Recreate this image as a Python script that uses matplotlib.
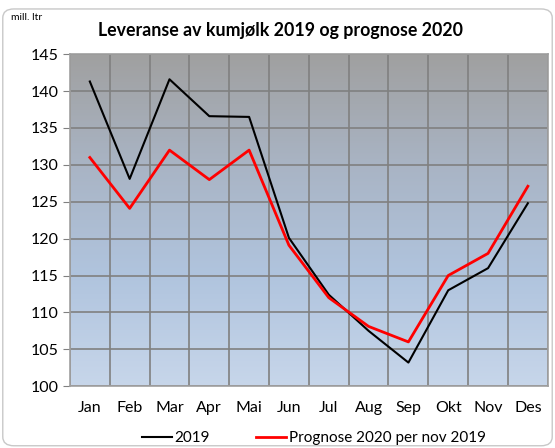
import numpy as np
import matplotlib.pyplot as plt
from matplotlib.colors import LinearSegmentedColormap
from matplotlib.patches import FancyBboxPatch

plt.rcParams['font.family'] = ['Lato', 'DejaVu Sans']

# Data (mill. liter)
months = ['Jan', 'Feb', 'Mar', 'Apr', 'Mai', 'Jun', 'Jul', 'Aug', 'Sep', 'Okt', 'Nov', 'Des']
lev_2019 = [141.3, 128.1, 141.6, 136.6, 136.5, 120.1, 112.4, 107.5, 103.2, 113.0, 116.0, 124.8]
prog_2020 = [131.0, 124.1, 132.0, 128.0, 132.0, 119.1, 112.0, 108.1, 106.0, 115.0, 118.0, 127.1]

fig = plt.figure(figsize=(5.55, 4.48), dpi=100)

# rounded frame round the whole chart
frame = FancyBboxPatch((0.005, 0.005), 0.99, 0.975, boxstyle='round,pad=0,rounding_size=0.02',
                       transform=fig.transFigure, facecolor='white', edgecolor='#c8c8c8',
                       lw=1.0, zorder=-10)
fig.patches.append(frame)

ax = fig.add_axes([0.126, 0.138, 0.861, 0.741])
ax.set_zorder(5)
x = np.arange(len(months))

# gradient background: grey at top, light blue at bottom
cmap = LinearSegmentedColormap.from_list('bg', ['#c7d6ea', '#b0c4de', '#a9b4c4', '#a0a0a0'])
grad = np.linspace(0, 1, 256).reshape(-1, 1)
ax.imshow(grad, cmap=cmap, aspect='auto', origin='lower',
          extent=[-0.5, 11.5, 100, 145], zorder=0)

ax.plot(x, lev_2019, color='black', lw=1.5, label='2019', zorder=3)
ax.plot(x, prog_2020, color='#ff0000', lw=2, label='Prognose 2020 per nov 2019', zorder=3)

ax.set_xlim(-0.5, 11.5)
ax.set_ylim(100, 145)
ax.set_yticks(np.arange(100, 146, 5))
ax.set_xticks(x)
ax.set_xticklabels(months)
ax.set_xticks(np.arange(-0.5, 12, 1), minor=True)
ax.tick_params(axis='x', which='both', length=0, pad=11, labelsize=11.5, colors='black')
ax.tick_params(axis='y', length=5, color='#808080', labelsize=11.5, pad=3)
ax.grid(True, axis='y', which='major', color='#808080', lw=1.2, zorder=1)
ax.grid(True, axis='x', which='minor', color='#808080', lw=1.2, zorder=1)
ax.grid(False, axis='x', which='major')
for s in ax.spines.values():
    s.set_color('#a0a0a0')
    s.set_linewidth(1.2)

fig.text(0.177, 0.933, 'Leveranse av kumjølk 2019 og prognose 2020',
         fontsize=12.8, fontweight='bold', va='center', ha='left')
fig.text(0.02, 0.962, 'mill. ltr', fontsize=7.5, va='center', ha='left')

ax.legend(loc='upper center', bbox_to_anchor=(0.51, -0.095), ncol=2, frameon=False,
          fontsize=11, handlelength=2.0, handletextpad=0.15, columnspacing=3.0)

fig.savefig('out.png', dpi=100)
